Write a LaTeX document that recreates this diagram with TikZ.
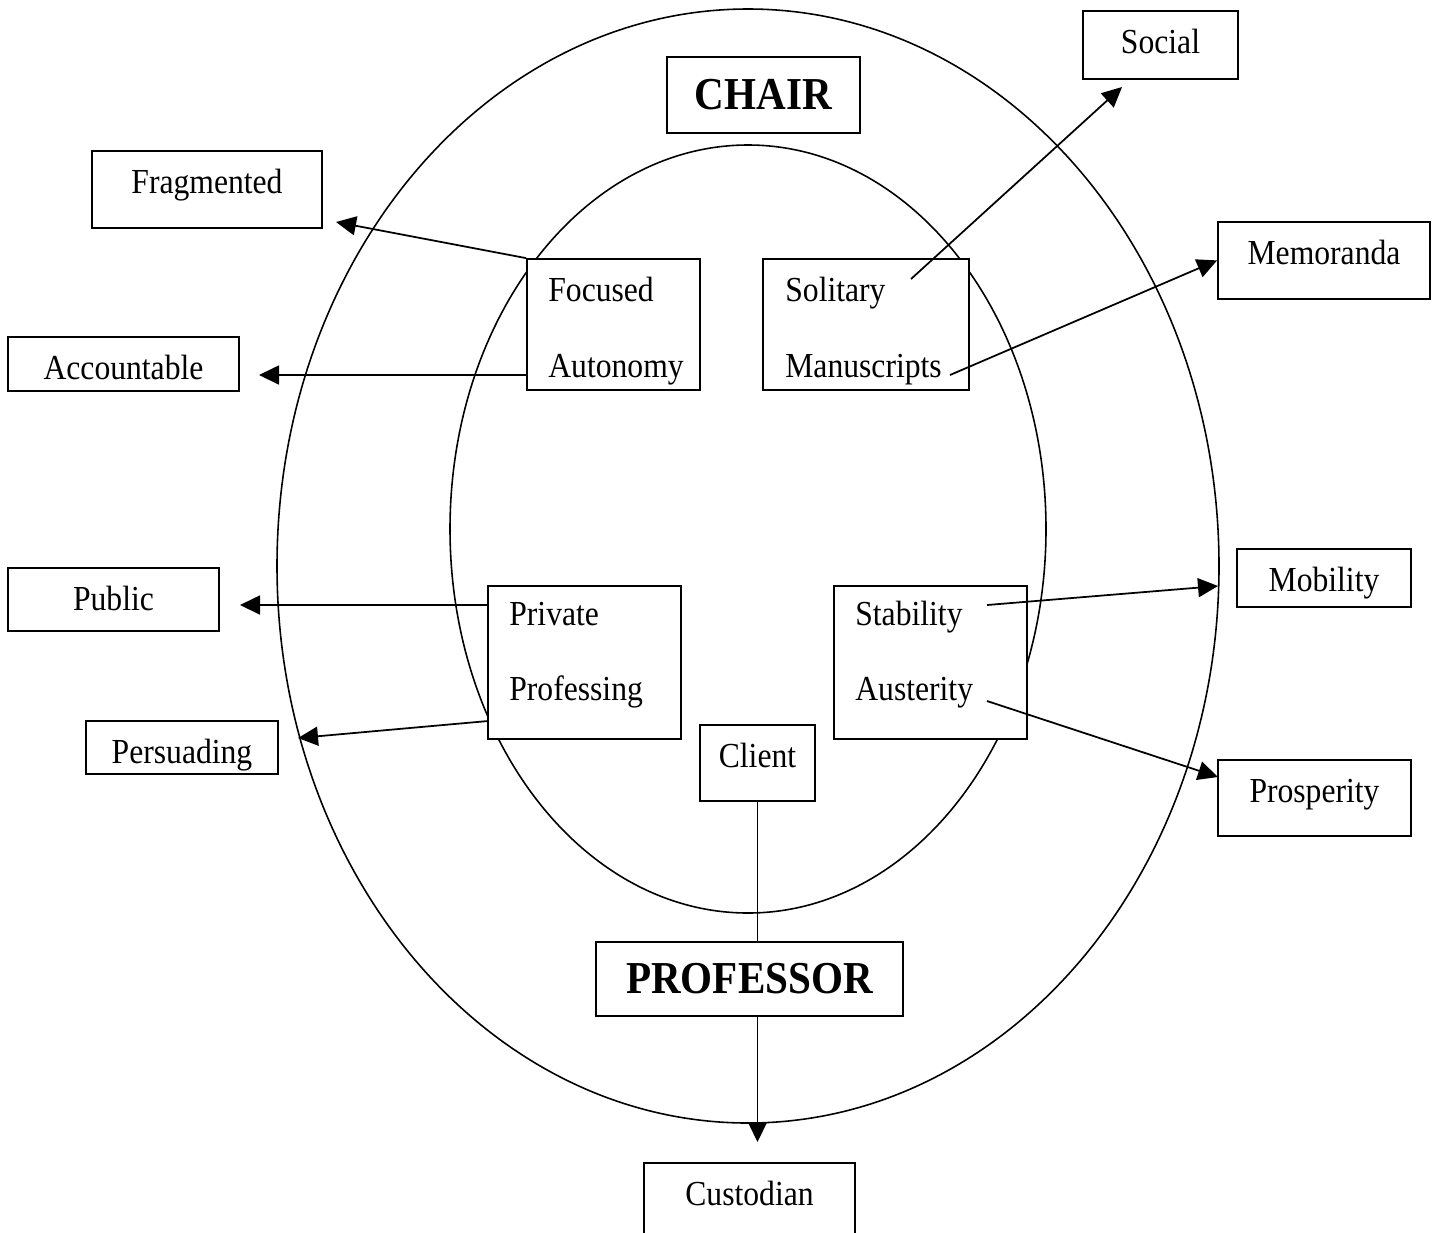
\documentclass[tikz,border=0pt]{standalone}
\usepackage{fontspec}
\setmainfont[FakeStretch=0.9]{Liberation Serif}
\usetikzlibrary{arrows.meta}
\newcommand{\figArrow}{{Triangle[length=4mm, width=3.8mm]}}

\begin{document}
\begin{tikzpicture}[x=0.2mm, y=-0.2mm, font=\fontsize{20}{24}\selectfont,
	frame/.style={draw, fill=white, line width=1pt, inner sep=0pt},
	box/.style={frame, anchor=north, text height=8mm},
	bigbox/.style={frame, font=\fontsize{26}{30}\selectfont\bfseries},
	word/.style={anchor=base west, inner sep=0pt},
	link/.style={line width=1pt}]
	\def\u{0.2mm}

	\useasboundingbox (0,0) rectangle (1437,1232);

	\draw[line width=0.9pt]	(748,566) ellipse [x radius=471, y radius=557];
	\draw[line width=0.9pt]	(748,529) ellipse [x radius=298, y radius=384];

	\node[bigbox, minimum width=193*\u, minimum height=76*\u] (chair) at (763.5,95) {CHAIR};
	\node[bigbox, minimum width=307*\u, minimum height=74*\u] (prof) at (749.5,979) {PROFESSOR};

	% boxes hang from their top edge, text sits at the same depth in each
	\node[box, minimum width=155*\u, minimum height=68*\u, text depth=4.56mm] (social) at (1160.5,10) {Social};
	\node[box, minimum width=230*\u, minimum height=77*\u, text depth=6.36mm] (frag) at (207,150) {Fragmented};
	\node[box, minimum width=212*\u, minimum height=77*\u, text depth=6.36mm] (memo) at (1324,221) {Memoranda};
	\node[box, minimum width=231*\u, minimum height=54*\u, text depth=1.76mm] (acc) at (123.5,336) {Accountable};
	\node[box, minimum width=211*\u, minimum height=63*\u, text depth=3.56mm] (public) at (113.5,567) {Public};
	\node[box, minimum width=174*\u, minimum height=58*\u, text depth=2.56mm] (mob) at (1324,548) {Mobility};
	\node[box, minimum width=192*\u, minimum height=53*\u, text depth=1.56mm] (pers) at (182,720) {Persuading};
	\node[box, minimum width=115*\u, minimum height=76*\u, text depth=6.16mm] (client) at (757.5,724) {Client};
	\node[box, minimum width=193*\u, minimum height=76*\u, text depth=6.16mm] (pros) at (1314.5,759) {Prosperity};
	\node[box, minimum width=211*\u, minimum height=80*\u, text depth=6.96mm] (cust) at (749.5,1162) {Custodian};

	% the four two-word boxes
	\node[frame, minimum width=173*\u, minimum height=131*\u] (foc) at (613.5,324.5) {};
	\node[frame, minimum width=206*\u, minimum height=131*\u] (sol) at (866,324.5) {};
	\node[frame, minimum width=193*\u, minimum height=153*\u] (priv) at (584.5,662.5) {};
	\node[frame, minimum width=193*\u, minimum height=153*\u] (stab) at (930.5,662.5) {};

	\node[word] (focused)	at (548,301) {Focused};
	\node[word] (autonomy)	at (548,377) {Autonomy};
	\node[word] (solitary)	at (785,301) {Solitary};
	\node[word] (manuscripts)	at (785,377) {Manuscripts};
	\node[word] (private)	at (509,625) {Private};
	\node[word] (professing)	at (509,700) {Professing};
	\node[word] (stability)	at (855,625) {Stability};
	\node[word] (austerity)	at (855,700) {Austerity};

	\coordinate (fragtip)	at (336,222);
	\coordinate (acctip)	at (259,375);
	\coordinate (solfrom)	at (911,279);
	\coordinate (socialtip)	at (1122,87);
	\coordinate (manfrom)	at (950,375);
	\coordinate (pubtip)	at (240,605);
	\coordinate (persfrom)	at (488,721);
	\coordinate (perstip)	at (298,738);
	\coordinate (stabfrom)	at (987,605);
	\coordinate (mobtip)	at (1218,586);
	\coordinate (austfrom)	at (987,701);
	\coordinate (prostip)	at (1218,777);
	\coordinate (custtip)	at (757.5,1142);

	\draw[link, -\figArrow]	(foc.north west) -- (fragtip);
	\draw[link, -\figArrow]	(foc.west |- acctip) -- (acctip);
	\draw[link, -\figArrow]	(solfrom) -- (socialtip);
	\draw[link, -\figArrow]	(manfrom) -- (memo.west);
	\draw[link, -\figArrow]	(priv.west |- pubtip) -- (pubtip);
	\draw[link, -\figArrow]	(persfrom) -- (perstip);
	\draw[link, -\figArrow]	(stabfrom) -- (mobtip);
	\draw[link, -\figArrow]	(austfrom) -- (prostip);

	\draw[link]	(client.south) -- (client.south |- prof.north);
	\draw[link, -\figArrow]	(prof.south -| client.south) -- (custtip);
\end{tikzpicture}
\end{document}
